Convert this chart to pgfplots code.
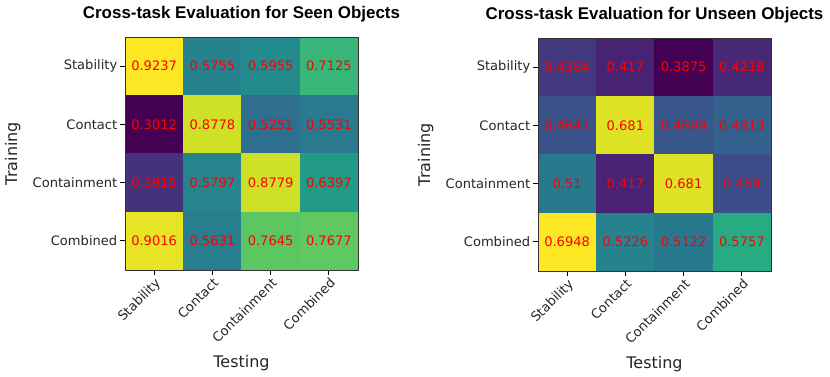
\documentclass[border=0pt]{standalone}
\usepackage{pgfplots}
\usepackage{pgfplotstable}
\pgfplotsset{compat=1.18}
\usepackage{fontspec}
\setmainfont{DejaVu Sans}
\newfontfamily\titlefont{Liberation Sans}

% viridis samples at 0, 0.1, ..., 1
\definecolor{v0}{RGB}{68,1,84}
\definecolor{v1}{RGB}{72,36,117}
\definecolor{v2}{RGB}{65,68,135}
\definecolor{v3}{RGB}{53,95,141}
\definecolor{v4}{RGB}{42,120,142}
\definecolor{v5}{RGB}{33,145,140}
\definecolor{v6}{RGB}{34,168,132}
\definecolor{v7}{RGB}{68,191,112}
\definecolor{v8}{RGB}{122,209,81}
\definecolor{v9}{RGB}{189,223,38}
\definecolor{v10}{RGB}{253,231,37}

\pgfplotstableread{
x y C
0 0 0.9237
1 0 0.5755
2 0 0.5955
3 0 0.7125
0 1 0.3012
1 1 0.8778
2 1 0.5251
3 1 0.5531
0 2 0.3915
1 2 0.5797
2 2 0.8779
3 2 0.6397
0 3 0.9016
1 3 0.5631
2 3 0.7645
3 3 0.7677
}\seen

\pgfplotstableread{
x y C
0 0 0.4384
1 0 0.417
2 0 0.3875
3 0 0.4218
0 1 0.4641
1 1 0.681
2 1 0.4699
3 1 0.4813
0 2 0.51
1 2 0.417
2 2 0.681
3 2 0.459
0 3 0.6948
1 3 0.5226
2 3 0.5122
3 3 0.5757
}\unseen

% one heat-map cell: x0 x1 y0 y1 colour
\newcommand\cell[5]{\addplot[draw=#5, fill=#5, line width=0.1pt, forget plot]
  coordinates {(#1,#3) (#2,#3) (#2,#4) (#1,#4)} -- cycle;}

\pgfplotsset{
  hm/.style={
    scale only axis,
    width=174.75pt, height=174.75pt,
    xmin=-0.5, xmax=3.5, ymin=-0.5, ymax=3.5,
    y dir=reverse,
    enlargelimits=false,
    xtick={0,1,2,3}, ytick={0,1,2,3},
    xticklabels={Stability,Contact,Containment,Combined},
    yticklabels={Stability,Contact,Containment,Combined},
    tick align=outside,
    xtick pos=bottom, ytick pos=left,
    major tick length=3.6pt,
    tick style={black, line width=0.6pt},
    axis line style={black!80, line width=0.6pt},
    axis on top,
    clip=false,
    tick label style={font=\fontsize{9.8}{11}\selectfont, text=black!85},
    xticklabel style={rotate=45, anchor=north east, inner sep=1pt},
    yticklabel style={inner sep=2pt},
    title style={at={(axis description cs:0.5,1)}, anchor=base, yshift=8.25pt,
                 font=\titlefont\bfseries\fontsize{12.7}{15}\selectfont},
    xlabel style={at={(axis description cs:0.5,0)}, anchor=base, yshift=-72.75pt,
                  font=\fontsize{12}{14}\selectfont, text=black!85},
    ylabel style={at={(axis description cs:-0.4635,0.5)}, anchor=base, rotate=0,
                  font=\fontsize{12}{14}\selectfont, text=black!85},
    xlabel={Testing}, ylabel={Training},
  },
  labels/.style={draw=none, mark=none, point meta=explicit,
    nodes near coords={\pgfmathprintnumber[fixed,precision=4,assume math mode=true]{\pgfplotspointmeta}},
    nodes near coords align=center,
    every node near coord/.style={anchor=center, text=red,
      font=\fontsize{9.8}{11}\selectfont}},
}

\begin{document}
\begin{tikzpicture}
\path[use as bounding box] (-93.75pt,-79.5pt) rectangle (528.75pt,202.5pt);
\begin{axis}[hm, at={(0pt,0pt)}, anchor=south west,
  title={Cross-task Evaluation for Seen Objects}]
  % row Stability
  \cell{-0.5}{0.5}{-0.5}{0.5}{v10}
  \cell{0.5}{1.5}{-0.5}{0.5}{v5!40.6!v4}
  \cell{1.5}{2.5}{-0.5}{0.5}{v5!72.8!v4}
  \cell{2.5}{3.5}{-0.5}{0.5}{v7!60.7!v6}
  % row Contact
  \cell{-0.5}{0.5}{0.5}{1.5}{v0}
  \cell{0.5}{1.5}{0.5}{1.5}{v10!26.3!v9}
  \cell{1.5}{2.5}{0.5}{1.5}{v4!59.7!v3}
  \cell{2.5}{3.5}{0.5}{1.5}{v5!4.7!v4}
  % row Containment
  \cell{-0.5}{0.5}{1.5}{2.5}{v2!45.1!v1}
  \cell{0.5}{1.5}{1.5}{2.5}{v5!47.4!v4}
  \cell{1.5}{2.5}{1.5}{2.5}{v10!26.5!v9}
  \cell{2.5}{3.5}{1.5}{2.5}{v6!43.8!v5}
  % row Combined
  \cell{-0.5}{0.5}{2.5}{3.5}{v10!64.5!v9}
  \cell{0.5}{1.5}{2.5}{3.5}{v5!20.7!v4}
  \cell{1.5}{2.5}{2.5}{3.5}{v8!44.3!v7}
  \cell{2.5}{3.5}{2.5}{3.5}{v8!49.4!v7}
  \addplot[labels] table[x=x, y=y, meta=C] {\seen};
\end{axis}
\begin{axis}[hm, at={(309.75pt,-0.75pt)}, anchor=south west,
  title={Cross-task Evaluation for Unseen Objects}]
  % row Stability
  \cell{-0.5}{0.5}{-0.5}{0.5}{v2!65.6!v1}
  \cell{0.5}{1.5}{-0.5}{0.5}{v1!96!v0}
  \cell{1.5}{2.5}{-0.5}{0.5}{v0}
  \cell{2.5}{3.5}{-0.5}{0.5}{v2!11.6!v1}
  % row Contact
  \cell{-0.5}{0.5}{0.5}{1.5}{v3!49.3!v2}
  \cell{0.5}{1.5}{0.5}{1.5}{v10!55.1!v9}
  \cell{1.5}{2.5}{0.5}{1.5}{v3!68.1!v2}
  \cell{2.5}{3.5}{0.5}{1.5}{v4!5.2!v3}
  % row Containment
  \cell{-0.5}{0.5}{1.5}{2.5}{v4!98.6!v3}
  \cell{0.5}{1.5}{1.5}{2.5}{v1!96!v0}
  \cell{1.5}{2.5}{1.5}{2.5}{v10!55.1!v9}
  \cell{2.5}{3.5}{1.5}{2.5}{v3!32.7!v2}
  % row Combined
  \cell{-0.5}{0.5}{2.5}{3.5}{v10}
  \cell{0.5}{1.5}{2.5}{3.5}{v5!39.6!v4}
  \cell{1.5}{2.5}{2.5}{3.5}{v5!5.8!v4}
  \cell{2.5}{3.5}{2.5}{3.5}{v7!12.4!v6}
  \addplot[labels] table[x=x, y=y, meta=C] {\unseen};
\end{axis}
\end{tikzpicture}
\end{document}
